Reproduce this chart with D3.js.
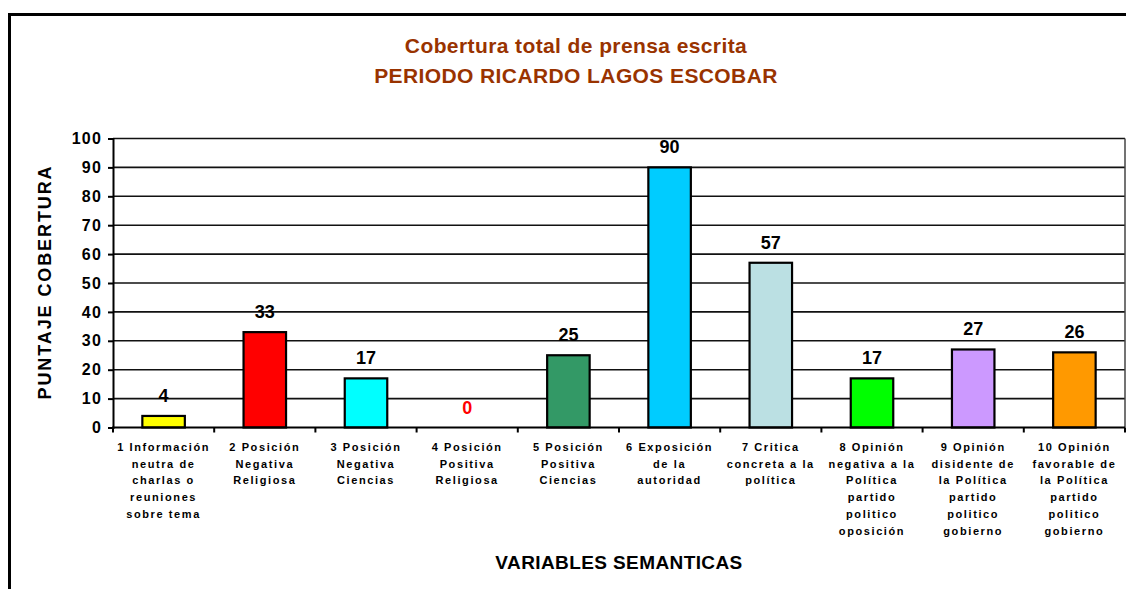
<!DOCTYPE html>
<html><head><meta charset="utf-8">
<script src="https://cdn.jsdelivr.net/npm/d3@7"></script>
<style>
html,body{margin:0;padding:0;background:#fff;}
svg{display:block;font-family:Arial,"Liberation Sans",sans-serif;}
</style></head>
<body>
<svg id="c" width="1126" height="589"></svg>
<script>
const categories = [
  ["1 Información","neutra de","charlas  o","reuniones","sobre tema"],
  ["2 Posición","Negativa","Religiosa"],
  ["3 Posición","Negativa","Ciencias"],
  ["4 Posición","Positiva","Religiosa"],
  ["5 Posición","Positiva","Ciencias"],
  ["6 Exposición","de la","autoridad"],
  ["7 Critica","concreta a la","política"],
  ["8 Opinión","negativa a la","Política","partido","politico","oposición"],
  ["9 Opinión","disidente de","la Política","partido","politico","gobierno"],
  ["10 Opinión","favorable de","la Política","partido","politico","gobierno"]
];
const values = [4, 33, 17, 0, 25, 90, 57, 17, 27, 26];
const barColors = ["#FFFF00","#FF0000","#00FFFF","#FFFFFF","#339966","#00CCFF","#BBE0E3","#00FF00","#CC99FF","#FF9900"];
const yTicks = [0,10,20,30,40,50,60,70,80,90,100];
const titleLines = ["Cobertura total de prensa escrita","PERIODO RICARDO LAGOS ESCOBAR"];
const yTitle = "PUNTAJE COBERTURA";
const xTitle = "VARIABLES SEMANTICAS";

const svg = d3.select("#c");
const ids = categories.map((c,i)=>i);
const x = d3.scaleBand().domain(ids).range([113,1125]).paddingInner(0.58).paddingOuter(0.29);
const y = d3.scaleLinear().domain([0,100]).range([427.5,138.5]);

// outer frame
svg.append("rect").attr("x",9.5).attr("y",14.5).attr("width",1130).attr("height",600)
  .attr("fill","none").attr("stroke","#000").attr("stroke-width",3);

// titles
svg.selectAll("text.title").data(titleLines).enter().append("text")
  .attr("x",576).attr("y",(d,i)=>53+i*30).attr("text-anchor","middle")
  .attr("font-size",21).attr("font-weight","bold").attr("fill","#993300")
  .attr("letter-spacing",0.4).text(d=>d);

// gridlines
svg.append("g").selectAll("line").data(yTicks.filter(t=>t>0)).enter().append("line")
  .attr("x1",113).attr("x2",1125).attr("y1",d=>y(d)).attr("y2",d=>y(d))
  .attr("stroke","#111").attr("stroke-width",1.6);
// right border
svg.append("line").attr("x1",1125).attr("x2",1125).attr("y1",y(100)).attr("y2",y(0))
  .attr("stroke","#444").attr("stroke-width",1.5);

// y axis
const yAxis = svg.append("g").attr("transform","translate(113,0)")
  .call(d3.axisLeft(y).tickValues(yTicks).tickSize(5).tickPadding(6));
yAxis.select(".domain").attr("stroke","#000").attr("stroke-width",2);
yAxis.selectAll(".tick line").attr("stroke","#000").attr("stroke-width",2);
yAxis.selectAll(".tick text").attr("font-size",16).attr("font-weight","bold")
  .attr("letter-spacing",1.2).attr("fill","#000").attr("font-family",'Arial,"Liberation Sans",sans-serif');

// bars
svg.append("g").selectAll("rect").data(values).enter().append("rect")
  .attr("x",(d,i)=>x(i)).attr("width",x.bandwidth())
  .attr("y",d=>y(d)).attr("height",d=>y(0)-y(d))
  .attr("fill",(d,i)=>barColors[i]).attr("stroke","#000").attr("stroke-width",2.2)
  .attr("display",d=>d===0?"none":null);

// value labels
svg.append("g").selectAll("text").data(values).enter().append("text")
  .attr("x",(d,i)=>x(i)+x.bandwidth()/2).attr("y",d=>y(d)-14)
  .attr("text-anchor","middle").attr("font-size",18).attr("font-weight","bold")
  .attr("fill",d=>d===0?"#FF0000":"#000").text(d=>d);

// x axis
const step = x.step();
const boundaries = d3.range(categories.length+1).map(i=>113+i*step);
svg.append("g").selectAll("line").data(boundaries).enter().append("line")
  .attr("x1",d=>d).attr("x2",d=>d).attr("y1",y(0)).attr("y2",y(0)+5)
  .attr("stroke","#000").attr("stroke-width",2);
svg.append("line").attr("x1",112).attr("x2",1125).attr("y1",y(0)).attr("y2",y(0))
  .attr("stroke","#000").attr("stroke-width",2.2);

// category labels
const cl = svg.append("g").selectAll("text").data(categories).enter().append("text")
  .attr("text-anchor","middle").attr("font-size",11).attr("font-weight","bold")
  .attr("letter-spacing",1.6).attr("fill","#000");
cl.each(function(lines,i){
  d3.select(this).selectAll("tspan").data(lines).enter().append("tspan")
    .attr("x",x(i)+x.bandwidth()/2).attr("y",(d,j)=>451+j*16.7).text(d=>d);
});

// axis titles
svg.append("text").attr("transform","translate(51,282) rotate(-90)")
  .attr("text-anchor","middle").attr("font-size",18).attr("font-weight","bold")
  .attr("letter-spacing",1.9).text(yTitle);
svg.append("text").attr("x",619).attr("y",569).attr("text-anchor","middle")
  .attr("font-size",19).attr("font-weight","bold").attr("letter-spacing",0.4).text(xTitle);
</script>
</body></html>
